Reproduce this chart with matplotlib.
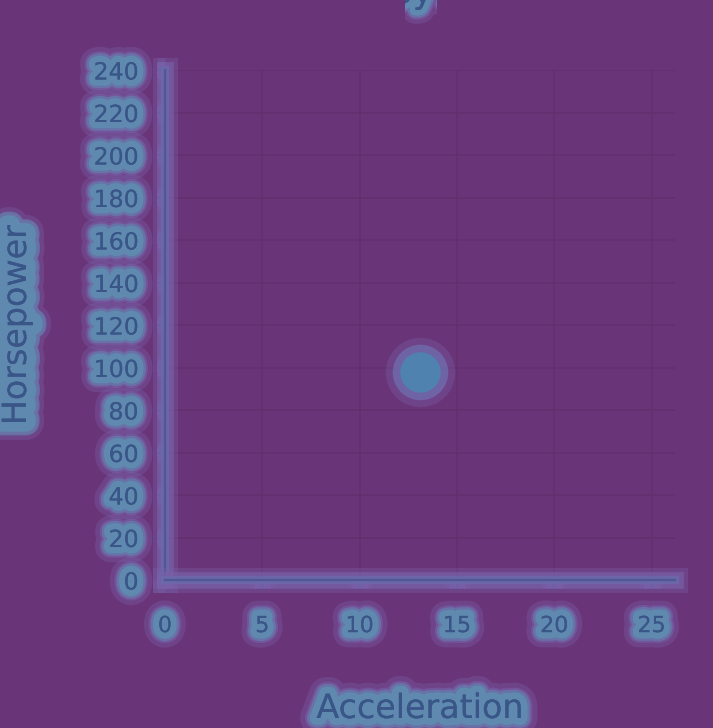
import matplotlib
matplotlib.use("Agg")
import matplotlib.pyplot as plt
import matplotlib.patheffects as pe
from matplotlib.patches import Rectangle

# Datos.
acceleration = [13.1]
horsepower = [98]

x_ticks = [0, 5, 10, 15, 20, 25]
y_ticks = list(range(0, 260, 20))

BG = "#6a3478"
GRID = "#62306f"
TEXT = "#3a5688"
AXIS = "#4f5794"
TEAL = "#5e90b3"
LAVENDER = "#7860a8"

# Brillo suave: varios trazos de ancho decreciente.
def soft_glow(outer, inner, wide=20, narrow=8):
    return [
        pe.withStroke(linewidth=wide, foreground=outer, alpha=0.35),
        pe.withStroke(linewidth=wide * 0.7, foreground=outer, alpha=0.6),
        pe.withStroke(linewidth=narrow * 1.4, foreground=inner, alpha=0.5),
        pe.withStroke(linewidth=narrow, foreground=inner, alpha=0.8),
        pe.Normal(),
    ]

text_glow = soft_glow(LAVENDER, TEAL, 22, 9)
line_glow = [
    pe.withStroke(linewidth=18, foreground=LAVENDER, alpha=0.35),
    pe.withStroke(linewidth=12, foreground=LAVENDER, alpha=0.7),
    pe.withStroke(linewidth=6, foreground="#6a6aaa", alpha=0.8),
    pe.Normal(),
]

fig = plt.figure(figsize=(7.13, 7.28), dpi=100, facecolor=BG)
W, H = 713, 728
ax = fig.add_axes([165 / W, 148 / H, 510 / W, 510 / H])
ax.set_facecolor(BG)

# Halo del punto y luego el punto.
ax.scatter(acceleration, horsepower, s=2500, color=LAVENDER, alpha=0.35,
           linewidth=0, zorder=3)
ax.scatter(acceleration, horsepower, s=1600, color="#6f72b0", alpha=0.7,
           linewidth=0, zorder=3)
ax.scatter(acceleration, horsepower, s=850, color="#4f82ae",
           linewidth=0, zorder=4)

ax.set_xlim(0, 26.2)
ax.set_ylim(0, 240)
ax.set_xticks(x_ticks)
ax.set_yticks(y_ticks)
ax.grid(True, color=GRID, linewidth=1.2)
ax.set_axisbelow(True)

for side in ["top", "right"]:
    ax.spines[side].set_visible(False)
for side in ["left", "bottom"]:
    ax.spines[side].set_color(AXIS)
    ax.spines[side].set_linewidth(1.5)
    ax.spines[side].set_path_effects(line_glow)

ax.tick_params(axis="both", colors=AXIS, labelcolor=TEXT,
               length=6, width=1.5)
ax.tick_params(axis="y", pad=13, labelsize=17)
ax.tick_params(axis="x", pad=20, labelsize=16)
for t in ax.get_xticklabels() + ax.get_yticklabels():
    t.set_path_effects(text_glow)
for t in ax.xaxis.get_ticklines() + ax.yaxis.get_ticklines():
    t.set_path_effects(line_glow)

ax.set_xlabel("Acceleration", fontsize=24, color=TEXT,
              path_effects=soft_glow(LAVENDER, TEAL, 24, 10))
ax.set_ylabel("Horsepower", fontsize=24, color=TEXT,
              path_effects=soft_glow(LAVENDER, TEAL, 26, 14))
ax.xaxis.set_label_coords(0.5, -112 / 510)
ax.yaxis.set_label_coords(-132 / 510, 0.5)

# Titulo casi fuera del cuadro: solo asoma una parte en el centro.
title = fig.text(416 / W, 1 - 3 / H, "Horsepower by Acceleration",
                 fontsize=24, color=TEXT, ha="center", va="baseline",
                 path_effects=soft_glow(LAVENDER, TEAL, 20, 8))
clip = Rectangle((405, 0), 32, H, transform=None)
title.set_clip_path(clip)

fig.savefig("out.png", dpi=100, facecolor=BG)
